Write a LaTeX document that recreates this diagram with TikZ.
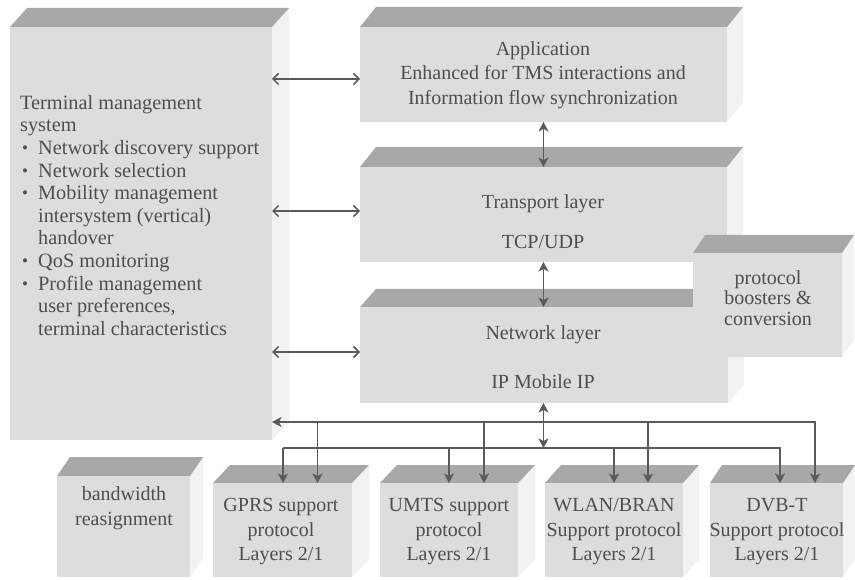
\documentclass[tikz,border=0pt]{standalone}
\usepackage{fontspec}
\setmainfont{Liberation Serif}
\usetikzlibrary{arrows.meta,calc}

\definecolor{frontcol}{HTML}{DDDDDD}
\definecolor{topcol}{HTML}{A8A8A8}
\definecolor{sidecol}{HTML}{F2F2F2}
\definecolor{inkcol}{HTML}{4E4E4E}
\definecolor{linecol}{HTML}{5A5A5A}

\tikzset{
  face/.style={fill=frontcol, draw=none, inner sep=0pt, outer sep=0pt},
  lbl/.style={text=inkcol, align=center, inner sep=0pt},
  head/.tip={Stealth[length=9.5pt,width=10pt,inset=2.6pt]},
  barb/.tip={Straight Barb[length=5.5pt,width=11pt,line width=1.5pt]},
  link/.style={draw=linecol, line width=1.9pt, -head},
  dlink/.style={draw=linecol, line width=1.9pt, head-head},
  hlink/.style={draw=linecol, line width=1.5pt, barb-barb},
}

% block with a front face, a top face and a right side face
% #1 name, #2 x1, #3 y1, #4 x2, #5 y2 (front face), #6 dx, #7 dy (depth)
\newcommand\boxblock[7]{%
  \fill[sidecol] (#4,#3) -- (#4+#6,#3-#7) -- (#4+#6,#5-#7) -- (#4,#5) -- cycle;
  \fill[topcol] (#2,#3) -- (#2+#6,#3-#7) -- (#4+#6,#3-#7) -- (#4,#3) -- cycle;
  \node[face, minimum width={(#4-#2)*1pt}, minimum height={(#5-#3)*1pt}]
    (#1) at ({(#2+#4)/2},{(#3+#5)/2}) {};%
}

\newcommand\bul{\makebox[18pt][l]{\hspace{2pt}\raisebox{1pt}{\fontsize{17}{17}\selectfont\textbullet}}}
\newcommand\ind{\hspace*{18pt}}

\begin{document}
\begin{tikzpicture}[x=1pt,y=-1pt]
  \fill[white] (0,0) rectangle (855,580);
  \useasboundingbox (0,0) rectangle (855,580);

  % terminal management system
  \boxblock{tms}{10}{27}{272}{440}{17}{19}
  % protocol stack
  \boxblock{app}{360}{27}{727}{122}{16}{20}
  \boxblock{trans}{360}{167}{727}{262}{16}{20}
  \boxblock{net}{360}{307}{728}{403}{16}{18}
  \boxblock{boost}{693}{253}{842}{357}{12}{18}
  % lower blocks
  \boxblock{bw}{57}{476}{190}{577}{13}{19}
  \boxblock{gprs}{213}{483}{352}{577}{17}{18}
  \boxblock{umts}{380}{483}{518}{577}{17}{18}
  \boxblock{wlan}{545}{483}{683}{577}{16}{18}
  \boxblock{dvb}{710}{483}{843}{577}{12}{18}

  % texts
  \node[lbl, align=left, anchor=north west, font=\fontsize{20.3}{22.6}\selectfont] (tmstext) at (20,95)
    {Terminal management\\
     system\\
     \bul Network discovery support\\
     \bul Network selection\\
     \bul Mobility management\\
     \ind intersystem (vertical)\\
     \ind handover\\
     \bul QoS monitoring\\
     \bul Profile management\\
     \ind user preferences,\\
     \ind terminal characteristics};

  \node[lbl, font=\fontsize{20}{24.5}\selectfont] (apptext) at (543,75)
    {Application\\Enhanced for TMS interactions and\\Information flow synchronization};
  \node[lbl, font=\fontsize{20}{40}\selectfont] (transtext) at (543,222)
    {Transport layer\\TCP/UDP};
  \node[lbl, font=\fontsize{20}{49}\selectfont] (nettext) at (543,357.5)
    {Network layer\\IP Mobile IP};
  \node[lbl, font=\fontsize{20}{20.5}\selectfont] (boosttext) at (768,298)
    {protocol\\boosters \&\\conversion};
  \node[lbl, font=\fontsize{20}{25}\selectfont] (bwtext) at (124,508)
    {bandwidth\\reasignment};
  \node[lbl, font=\fontsize{20}{24.5}\selectfont] (gprstext) at (281,532)
    {GPRS support\\protocol\\Layers 2/1};
  \node[lbl, font=\fontsize{20}{24.5}\selectfont] (umtstext) at (449,532)
    {UMTS support\\protocol\\Layers 2/1};
  \node[lbl, font=\fontsize{20}{24.5}\selectfont] (wlantext) at (614,532)
    {WLAN/BRAN\\Support protocol\\Layers 2/1};
  \node[lbl, font=\fontsize{20}{24.5}\selectfont] (dvbtext) at (777,532)
    {DVB-T\\Support protocol\\Layers 2/1};

  % links between the management system and the layers
  \draw[hlink] (tms.east |- 0,79) -- (app.west |- 0,79);
  \draw[hlink] (tms.east |- 0,211) -- (trans.west |- 0,211);
  \draw[hlink] (tms.east |- 0,352) -- (net.west |- 0,352);

  % links between the layers
  \draw[dlink] (app.south) -- (trans.north);
  \draw[dlink] (trans.south) -- (app.south |- net.north);

  % buses towards the lower blocks
  \coordinate (ubus) at (543,422);
  \coordinate (lbus) at (543,448);
  \coordinate (gU) at ($(gprs.north)+(35,0)$);
  \coordinate (uU) at ($(umts.north)+(35,0)$);
  \coordinate (wU) at ($(wlan.north)+(34,0)$);
  \coordinate (dU) at ($(dvb.north)+(38.5,0)$);
  \coordinate (gL) at ($(gprs.north)+(0.5,0)$);
  \coordinate (uL) at (umts.north);
  \coordinate (wL) at (wlan.north);
  \coordinate (dL) at ($(dvb.north)+(3.5,0)$);

  \draw[dlink] (app.south |- net.south) -- (app.south |- lbus);
  \draw[dlink] (tms.east |- ubus) -- (ubus -| dU) -- (dU);
  \draw[link] (gU |- ubus) -- (gU);
  \draw[link] (uU |- ubus) -- (uU);
  \draw[link] (wU |- ubus) -- (wU);
  \draw[link] (gL |- lbus) -- (dL |- lbus) -- (dL);
  \draw[link] (gL |- lbus) -- (gL);
  \draw[link] (uL |- lbus) -- (uL);
  \draw[link] (wL |- lbus) -- (wL);
\end{tikzpicture}
\end{document}
